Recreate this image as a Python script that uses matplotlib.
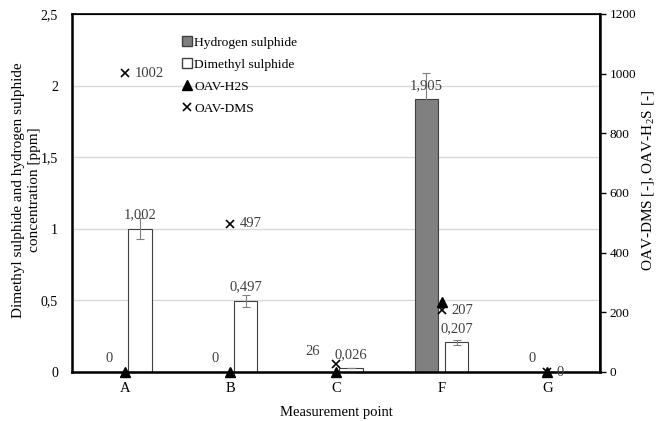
import matplotlib
matplotlib.use("Agg")
import matplotlib.pyplot as plt
from matplotlib.patches import Patch
from matplotlib.lines import Line2D
import numpy as np

categories = ["A", "B", "C", "F", "G"]
h2s_ppm = [0, 0, 0, 1.905, 0]
h2s_err = [0, 0, 0, 0.185, 0]
dms_ppm = [1.002, 0.497, 0.026, 0.207, 0]
dms_err = [0.075, 0.04, 0.0, 0.018, 0]
oav_h2s = [0, 0, 0, 235, 0]
oav_dms = [1002, 497, 26, 207, 0]
bar_labels_h2s = ["", "", "", "1,905", ""]
bar_labels_dms = ["1,002", "0,497", "0,026", "0,207", ""]
h2s_point_labels = ["0", "0", "", "", "0"]
dms_point_labels = ["1002", "497", "26", "207", "0"]

plt.rcParams['font.family'] = ['Liberation Serif', 'DejaVu Serif']
plt.rcParams['font.size'] = 10.5
plt.rcParams['mathtext.fontset'] = 'custom'
plt.rcParams['mathtext.rm'] = 'Liberation Serif'

fig = plt.figure(figsize=(6.56, 4.21), dpi=100)
ax = fig.add_axes([72/656, 1-372/421, 528/656, 358/421])
x = np.arange(len(categories))
w = 0.22
off = 0.143

ax.set_xlim(-0.5, len(categories)-0.5)
ax.set_ylim(0, 2.5)
ax.set_yticks([0, 0.5, 1, 1.5, 2, 2.5])
ax.set_yticklabels(["0", "0,5", "1", "1,5", "2", "2,5"])
ax.yaxis.grid(True, color="#d9d9d9", lw=1)
ax.set_axisbelow(True)
ax.tick_params(axis='y', length=0, pad=10, labelsize=10)
ax.tick_params(axis='x', length=0, pad=7)
ax.set_xticks(x)
ax.set_xticklabels(categories)

ax.bar(x - off, h2s_ppm, w, color="#808080", edgecolor="#404040", lw=0.8,
       yerr=h2s_err, error_kw=dict(ecolor="#808080", capsize=3, lw=0.8, capthick=0.8))
ax.bar(x + off, dms_ppm, w, color="white", edgecolor="#404040", lw=0.8,
       yerr=dms_err, error_kw=dict(ecolor="#808080", capsize=3, lw=0.8, capthick=0.8))

for i in range(len(categories)):
    if bar_labels_h2s[i]:
        ax.annotate(bar_labels_h2s[i], (x[i]-off, h2s_ppm[i]), xytext=(0, 10),
                    textcoords="offset points", ha="center", va="center", color="#404040")
    if bar_labels_dms[i]:
        ax.annotate(bar_labels_dms[i], (x[i]+off, dms_ppm[i]), xytext=(0, 10),
                    textcoords="offset points", ha="center", va="center", color="#404040")

for s in ["left", "bottom"]:
    ax.spines[s].set_linewidth(1.8)
for s in ["top", "right"]:
    ax.spines[s].set_linewidth(1.2)

ax.set_xlabel("Measurement point", labelpad=8)
ax.set_ylabel("Dimethyl sulphide and hydrogen sulphide\nconcentration [ppm]",
              linespacing=1.3, fontsize=11)
ax.yaxis.set_label_coords(-0.0587, 0.508)

ax2 = ax.twinx()
ax2.set_ylim(0, 1200)
ax2.set_yticks([0, 200, 400, 600, 800, 1000, 1200])
ax2.tick_params(axis='y', length=4, width=1, pad=3, labelsize=9.5)
ax2.spines["right"].set_linewidth(1.8)
ax2.set_ylabel("OAV-DMS [-], OAV-H$_2$S [-]", fontsize=11)
ax2.yaxis.set_label_coords(1.076, 0.536)

ax2.plot(x, oav_h2s, ls="none", marker="^", color="black", ms=7, clip_on=False, zorder=5)
ax2.plot(x, oav_dms, ls="none", marker="x", color="black", ms=6, mew=1.2, clip_on=False, zorder=5)

for i in range(len(categories)):
    if h2s_point_labels[i]:
        ax2.annotate(h2s_point_labels[i], (x[i], oav_h2s[i]), xytext=(-11, 10),
                     textcoords="offset points", ha="center", va="center", color="#404040")
    if dms_point_labels[i]:
        if categories[i] == "C":
            ax2.annotate(dms_point_labels[i], (x[i], oav_dms[i]), xytext=(-17, 9),
                         textcoords="offset points", ha="center", va="center", color="#404040")
        else:
            ax2.annotate(dms_point_labels[i], (x[i], oav_dms[i]), xytext=(7, 0),
                         textcoords="offset points", ha="left", va="center", color="#404040")

handles = [Patch(facecolor="#808080", edgecolor="#404040"),
           Patch(facecolor="white", edgecolor="#404040"),
           Line2D([], [], ls="none", marker="^", color="black", ms=7),
           Line2D([], [], ls="none", marker="x", color="black", ms=6, mew=1.2)]
labels = ["Hydrogen sulphide", "Dimethyl sulphide", "OAV-H2S", "OAV-DMS"]
fig.legend(handles, labels, loc="upper left", bbox_to_anchor=(182/656, 1-36/421),
           frameon=False, handlelength=0.75, handleheight=0.75, handletextpad=0.15,
           labelspacing=0.7, borderpad=0, borderaxespad=0, fontsize=9.7)

fig.savefig("out.png", dpi=100)
